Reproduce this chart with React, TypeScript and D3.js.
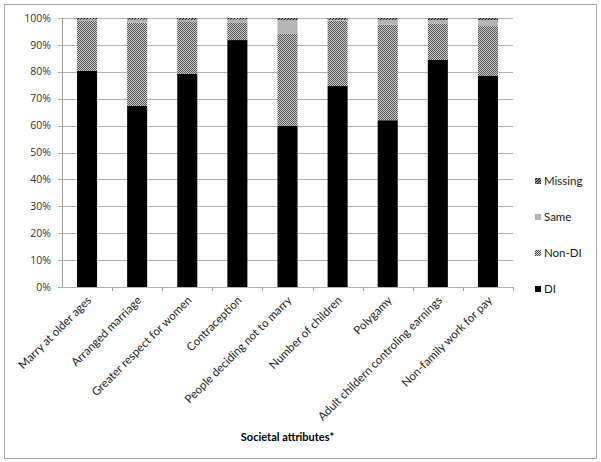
import React from 'react';
import * as d3 from 'd3';

const categories = [
  'Marry at older ages',
  'Arranged marriage',
  'Greater respect for women',
  'Contraception',
  'People deciding not to marry',
  'Number of children',
  'Polygamy',
  'Adult childern controling earnings',
  'Non-family work for pay',
];

const diValues = [80.4, 67.3, 79.2, 91.8, 60.0, 74.7, 62.0, 84.4, 78.6];
const nonDiValues = [18.7, 30.9, 19.6, 6.6, 34.1, 24.3, 35.5, 13.6, 18.4];
const sameValues = [0.3, 1.2, 0.5, 1.0, 5.1, 0.3, 1.8, 1.2, 2.2];
const missingValues = [0.6, 0.6, 0.7, 0.6, 0.8, 0.7, 0.7, 0.8, 0.8];

const seriesKeys = ['DI', 'Non-DI', 'Same', 'Missing'];
const yTicks = [0, 10, 20, 30, 40, 50, 60, 70, 80, 90, 100];

const fills: Record<string, string> = {
  DI: '#000000',
  'Non-DI': 'url(#pat-nondi)',
  Same: '#b4b4b4',
  Missing: 'url(#pat-missing)',
};

const W = 601;
const H = 462;
const margin = { left: 62, right: 88, top: 18, bottom: 175 };
const font = 'Lato, "Open Sans", sans-serif';

export default function App() {
  const rows = categories.map((c, i) => ({
    cat: c,
    DI: diValues[i],
    'Non-DI': nonDiValues[i],
    Same: sameValues[i],
    Missing: missingValues[i],
  }));

  const x = d3
    .scaleBand<string>()
    .domain(categories)
    .range([margin.left, W - margin.right])
    .paddingInner(0.6)
    .paddingOuter(0.3);
  const y = d3.scaleLinear().domain([0, 100]).range([H - margin.bottom, margin.top]);

  const stacked = d3.stack<any>().keys(seriesKeys)(rows);
  const step = x.step();
  const x0 = margin.left;
  const x1 = W - margin.right;
  const y0 = y(0);

  // legend, top to bottom in reverse series order
  const legendItems = [...seriesKeys].reverse();

  return (
    <svg
      width={W}
      height={H}
      style={{ position: 'absolute', left: 0, top: 0, background: '#fff' }}
      fontFamily={font}
    >
      <defs>
        <pattern id="pat-nondi" width="2" height="2" patternUnits="userSpaceOnUse">
          <rect width="2" height="2" fill="#d0d0d0" />
          <rect width="1" height="1" fill="#505050" />
          <rect x="1" y="1" width="1" height="1" fill="#505050" />
        </pattern>
        <pattern id="pat-missing" width="3" height="3" patternUnits="userSpaceOnUse">
          <rect width="3" height="3" fill="#888" />
          <rect width="1" height="1" fill="#111" />
          <rect x="2" y="1" width="1" height="1" fill="#111" />
          <rect x="1" y="2" width="1" height="1" fill="#111" />
        </pattern>
      </defs>

      <rect x={4.5} y={4.5} width={592} height={454} fill="#fff" stroke="#a6a6a6" strokeWidth={1} />

      {/* gridlines */}
      {yTicks.map((t) => (
        <line
          key={t}
          x1={x0 - 4}
          x2={x1}
          y1={Math.round(y(t)) + 0.5}
          y2={Math.round(y(t)) + 0.5}
          stroke="#b3b3b3"
          strokeWidth={1}
        />
      ))}

      {/* y axis */}
      <line x1={x0 + 0.5} x2={x0 + 0.5} y1={y(100)} y2={y0} stroke="#a0a0a0" />
      {yTicks.map((t) => (
        <text
          key={t}
          x={x0 - 11}
          y={y(t)}
          dy="0.35em"
          textAnchor="end"
          fontSize={10.5}
          fontFamily='"Open Sans", sans-serif'
          fill="#333"
        >
          {t}%
        </text>
      ))}

      {/* x ticks */}
      {categories.map((c, i) => (
        <line
          key={c}
          x1={Math.round(x0 + step * (i + 1)) + 0.5}
          x2={Math.round(x0 + step * (i + 1)) + 0.5}
          y1={y0}
          y2={y0 + 4}
          stroke="#a0a0a0"
        />
      ))}

      {/* bars */}
      {stacked.map((s) => (
        <g key={s.key} fill={fills[s.key]}>
          {s.map((d, i) => (
            <rect
              key={i}
              x={x(categories[i])}
              width={x.bandwidth()}
              y={y(d[1])}
              height={y(d[0]) - y(d[1])}
            />
          ))}
        </g>
      ))}

      {/* category labels */}
      {categories.map((c) => {
        const cx = (x(c) as number) + x.bandwidth() / 2 + 5;
        return (
          <text
            key={c}
            transform={`translate(${cx},${y0 + 14}) rotate(-45)`}
            textAnchor="end"
            fontSize={11.5}
            fill="#222"
          >
            {c}
          </text>
        );
      })}

      <text
        x={(x0 + x1) / 2}
        y={441}
        textAnchor="middle"
        fontSize={11}
        fontWeight="bold"
        fill="#000"
      >
        Societal attributes*
      </text>

      {/* legend */}
      {legendItems.map((k, i) => {
        const ly = 181 + i * 36;
        return (
          <g key={k}>
            <rect x={535} y={ly - 3} width={6} height={6} fill={fills[k]} />
            <text x={544} y={ly} dy="0.35em" fontSize={11.5} fill="#222">
              {k}
            </text>
          </g>
        );
      })}
    </svg>
  );
}
